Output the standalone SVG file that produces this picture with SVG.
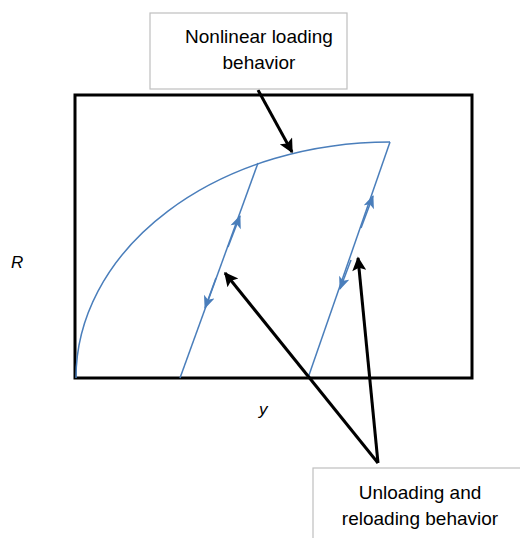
<svg xmlns="http://www.w3.org/2000/svg" width="520" height="538" viewBox="0 0 520 538">
<style>
.lbl{font-family:"Liberation Sans",Arial,sans-serif;font-size:19px;fill:#000;text-anchor:middle}
.ax{font-family:"Liberation Sans",Arial,sans-serif;font-size:17px;font-style:italic;fill:#000}
.box{fill:#fff;stroke:#bfbfbf;stroke-width:1.2}
.blue{fill:none;stroke:#4a7ebb;stroke-width:1.5}
.blk{stroke:#000;stroke-width:3;fill:none}
</style>
<defs>
<marker id="ba" viewBox="0 0 12 10" refX="11" refY="5" markerWidth="14" markerHeight="11" markerUnits="userSpaceOnUse" orient="auto">
<path d="M0,0 L12,5 L0,10 L3,5 Z" fill="#4a7ebb"/>
</marker>
<marker id="ka" viewBox="0 0 10 10" refX="9" refY="5" markerWidth="16" markerHeight="14" markerUnits="userSpaceOnUse" orient="auto">
<path d="M0,0 L10,5 L0,10 L2,5 Z" fill="#000"/>
</marker>
</defs>
<rect x="0" y="0" width="520" height="538" fill="#fff"/>
<g id="plot">
<rect x="75" y="95" width="397" height="283" fill="none" stroke="#000" stroke-width="3"/>
</g>
<g id="curve">
<path class="blue" d="M76,378 A314,236 0 0 1 390,142"/>
<path class="blue" d="M258,163 L180,378"/>
<path class="blue" d="M390,142 L308,378"/>
</g>
<g id="flow-arrows">
<path class="blue" d="M228,247 L240,216" marker-end="url(#ba)"/>
<path class="blue" d="M216,278 L205,308" marker-end="url(#ba)"/>
<path class="blue" d="M361,228 L373,196" marker-end="url(#ba)"/>
<path class="blue" d="M351,260 L340,289" marker-end="url(#ba)"/>
</g>
<g id="connectors">
<path class="blk" d="M258,90 L292,152" marker-end="url(#ka)"/>
<path class="blk" d="M378,463 L225,273" marker-end="url(#ka)"/>
<path class="blk" d="M378,463 L358,258" marker-end="url(#ka)"/>
</g>
<g id="label-nonlinear">
<rect class="box" x="150" y="13" width="197" height="76"/>
<text class="lbl" x="259" y="43">Nonlinear loading</text>
<text class="lbl" x="259" y="69">behavior</text>
</g>
<g id="label-unloading">
<rect class="box" x="313" y="468" width="220" height="80"/>
<text class="lbl" x="420" y="499">Unloading and</text>
<text class="lbl" x="420" y="525">reloading behavior</text>
</g>
<g id="axis-labels">
<text class="ax" x="11" y="268">R</text>
<text class="ax" x="259" y="415">y</text>
</g>
</svg>
